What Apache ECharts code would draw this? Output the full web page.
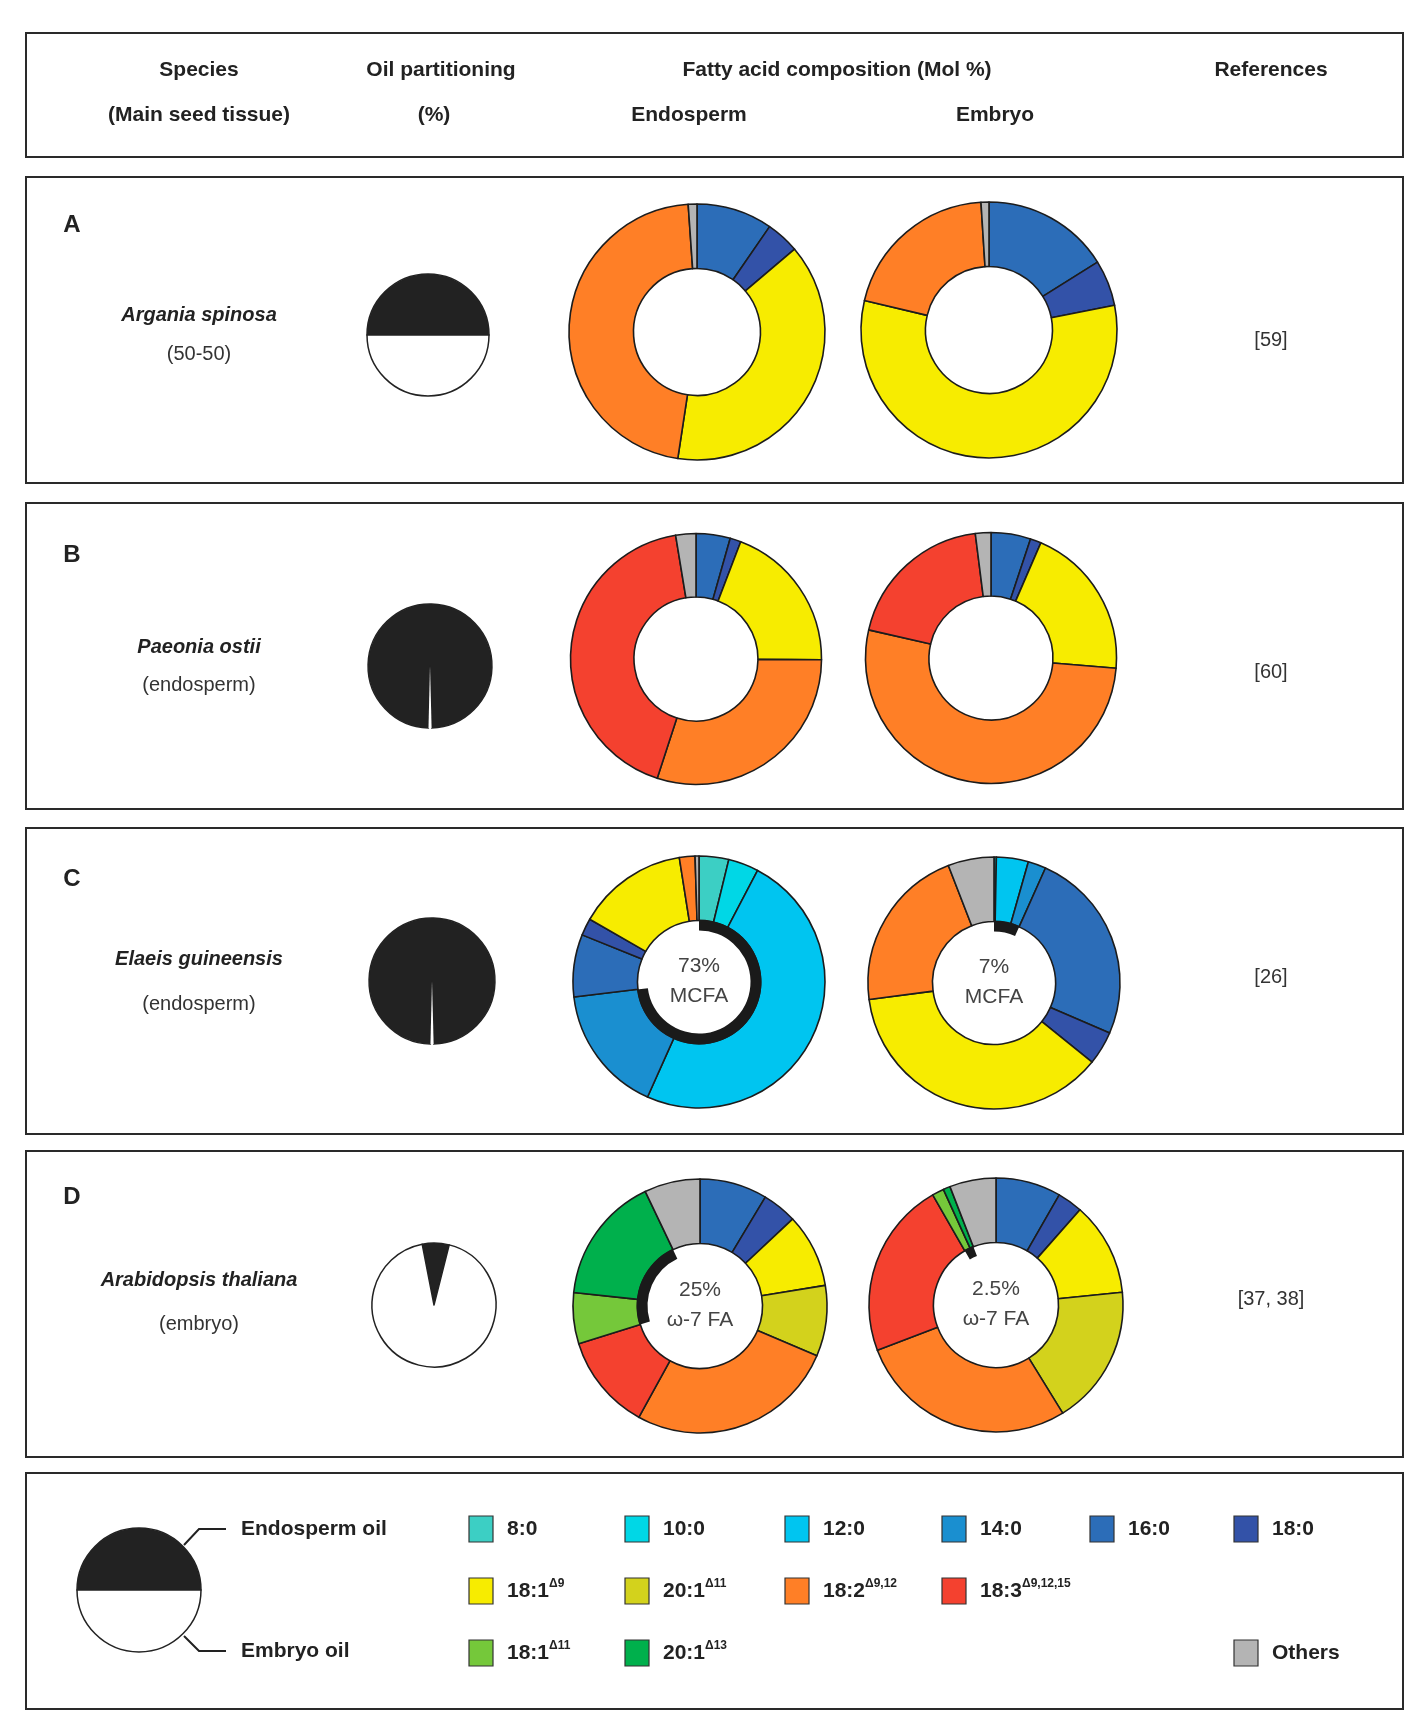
<!DOCTYPE html>
<html><head><meta charset="utf-8">
<script src="https://cdn.jsdelivr.net/npm/echarts@6/dist/echarts.min.js"></script>
<style>html,body{margin:0;padding:0;background:#fff}#c{width:1428px;height:1733px}</style>
</head><body><div id="c"></div>
<script>
// ================= DATA =================
const faNames = ['8:0','10:0','12:0','14:0','16:0','18:0','18:1Δ9','20:1Δ11','18:2Δ9,12','18:3Δ9,12,15','18:1Δ11','20:1Δ13','Others'];

const panelLetters = ['A','B','C','D'];
const speciesNames = ['Argania spinosa','Paeonia ostii','Elaeis guineensis','Arabidopsis thaliana'];
const mainTissue = ['(50-50)','(endosperm)','(endosperm)','(embryo)'];
const references = ['[59]','[60]','[26]','[37, 38]'];

// Oil partitioning (%): endosperm oil, embryo oil
const oilEndosperm = [50, 99.2, 99.2, 7];
const oilEmbryo    = [50, 0.8, 0.8, 93];
const legendOilSplit = [50, 50];

// Fatty acid composition (Mol %), clockwise from 12 o'clock
const A_fa       = ['16:0','18:0','18:1Δ9','18:2Δ9,12','Others'];
const A_endo_val = [9.6, 4.2, 38.6, 46.5, 1.1];
const A_emb_val  = [16.1, 5.8, 56.8, 20.3, 1.0];

const B_fa       = ['16:0','18:0','18:1Δ9','18:2Δ9,12','18:3Δ9,12,15','Others'];
const B_endo_val = [4.4, 1.4, 19.3, 29.9, 42.4, 2.6];
const B_emb_val  = [5.1, 1.4, 19.8, 52.3, 19.4, 2.0];

const C_endo_fa  = ['8:0','10:0','12:0','14:0','16:0','18:0','18:1Δ9','18:2Δ9,12','Others'];
const C_endo_val = [3.8, 3.9, 49.0, 16.4, 8.0, 2.2, 14.2, 2.0, 0.5];
const C_emb_fa   = ['10:0','12:0','14:0','16:0','18:0','18:1Δ9','18:2Δ9,12','Others'];
const C_emb_val  = [0.3, 4.1, 2.3, 24.8, 4.3, 37.1, 21.2, 5.9];

const D_fa       = ['16:0','18:0','18:1Δ9','20:1Δ11','18:2Δ9,12','18:3Δ9,12,15','18:1Δ11','20:1Δ13','Others'];
const D_endo_val = [8.6, 4.4, 9.4, 9.0, 26.6, 12.2, 6.5, 16.2, 7.1];
const D_emb_val  = [8.3, 3.2, 11.9, 17.8, 28.0, 22.5, 1.5, 0.9, 5.9];

// Highlighted groups (black inner arc)
const mcfaGroup  = ['8:0','10:0','12:0','14:0'];
const omega7Group = ['18:1Δ11','20:1Δ13'];
const C_endo_label = ['73%','MCFA'];
const C_emb_label  = ['7%','MCFA'];
const D_endo_label = ['25%','ω-7 FA'];
const D_emb_label  = ['2.5%','ω-7 FA'];

// ================= STYLES / LAYOUT =================
const faColors = {
  '8:0':'#3ccfc4','10:0':'#00d7e6','12:0':'#00c5f0','14:0':'#1a8fd0','16:0':'#2c6db8','18:0':'#3352a8',
  '18:1Δ9':'#f7ec00','20:1Δ11':'#d3d21c','18:2Δ9,12':'#ff7f26','18:3Δ9,12,15':'#f4412f',
  '18:1Δ11':'#75c83a','20:1Δ13':'#00b04c','Others':'#b4b4b4'
};
const FONT = '"Liberation Sans", Arial, sans-serif';
const ink = '#222';

const panelRect = [[177,306],[503,306],[828,306],[1151,306]];
const rowY = [
  {letter:225, sp:315, ti:354, ref:340, pie:335, endo:[697,332], emb:[989,330], ro:128, ri:63.5},
  {letter:555, sp:647, ti:685, ref:672, pie:666, endo:[696,659], emb:[991,658], ro:125.5, ri:62},
  {letter:879, sp:959, ti:1004, ref:977, pie:981, endo:[699,982], emb:[994,983], ro:126, ri:61.5},
  {letter:1197, sp:1280, ti:1324, ref:1299, pie:1305, endo:[700,1306], emb:[996,1305], ro:127, ri:62.5}
];
const pieX = [428, 430, 432, 434];
const pieR = [61, 62, 63, 62];

// ================= BUILD =================
const series = [];
const graphic = [];

function donut(center, ro, ri, names, vals) {
  series.push({
    type:'pie', center:center, radius:[ri, ro], startAngle:90, clockwise:true,
    silent:true, animation:false, label:{show:false}, labelLine:{show:false},
    itemStyle:{borderColor:'#1c1c1c', borderWidth:1.6},
    emphasis:{disabled:true},
    data: names.map((n,i)=>({name:n, value:vals[i], itemStyle:{color:faColors[n]}}))
  });
}
function arc(center, ri, names, vals, group) {
  let before=0, mid=0, after=0, seen=false;
  names.forEach((n,i)=>{
    if (group.includes(n)) { mid+=vals[i]; seen=true; }
    else if (!seen) before+=vals[i]; else after+=vals[i];
  });
  series.push({
    type:'pie', center:center, radius:[ri-10, ri+1], startAngle:90, clockwise:true,
    silent:true, animation:false, label:{show:false}, labelLine:{show:false},
    emphasis:{disabled:true}, z:5,
    data:[
      {value:before, itemStyle:{color:'rgba(0,0,0,0)'}},
      {value:mid, itemStyle:{color:'#1a1a1a'}},
      {value:after, itemStyle:{color:'rgba(0,0,0,0)'}}
    ]
  });
}
function oilPie(center, r, endo, emb, startAngle, border) {
  series.push({
    type:'pie', center:center, radius:[0, r], startAngle:startAngle, clockwise:true,
    silent:true, animation:false, label:{show:false}, labelLine:{show:false},
    emphasis:{disabled:true},
    data:[
      {name:'Endosperm oil', value:endo, itemStyle:{color:'#222', borderColor:'#222', borderWidth:border?1.5:1.4}},
      {name:'Embryo oil', value:emb, itemStyle:{color:'#ffffff', borderColor:border?'#222':'transparent', borderWidth:border?1.5:0}}
    ]
  });
}
function centerText(c, lines) {
  graphic.push({type:'text', x:c[0], y:c[1]-16, style:{text:lines[0], font:'21px '+FONT, fill:'#444', textAlign:'center', textVerticalAlign:'middle'}, z:10});
  graphic.push({type:'text', x:c[0], y:c[1]+14, style:{text:lines[1], font:'21px '+FONT, fill:'#444', textAlign:'center', textVerticalAlign:'middle'}, z:10});
}

// Oil partition pies
const pieStart = [180, 268.6, 268.6, 101];
const pieBorder = [true, false, false, true];
for (let i=0;i<4;i++) oilPie([pieX[i], rowY[i].pie], pieR[i], oilEndosperm[i], oilEmbryo[i], pieStart[i], pieBorder[i]);

// Donuts
donut(rowY[0].endo, rowY[0].ro, rowY[0].ri, A_fa, A_endo_val);
donut(rowY[0].emb,  rowY[0].ro, rowY[0].ri, A_fa, A_emb_val);
donut(rowY[1].endo, rowY[1].ro, rowY[1].ri, B_fa, B_endo_val);
donut(rowY[1].emb,  rowY[1].ro, rowY[1].ri, B_fa, B_emb_val);
donut(rowY[2].endo, rowY[2].ro, rowY[2].ri, C_endo_fa, C_endo_val);
donut(rowY[2].emb,  rowY[2].ro, rowY[2].ri, C_emb_fa, C_emb_val);
donut(rowY[3].endo, rowY[3].ro, rowY[3].ri, D_fa, D_endo_val);
donut(rowY[3].emb,  rowY[3].ro, rowY[3].ri, D_fa, D_emb_val);
arc(rowY[2].endo, rowY[2].ri, C_endo_fa, C_endo_val, mcfaGroup);
arc(rowY[2].emb,  rowY[2].ri, C_emb_fa, C_emb_val, mcfaGroup);
arc(rowY[3].endo, rowY[3].ri, D_fa, D_endo_val, omega7Group);
arc(rowY[3].emb,  rowY[3].ri, D_fa, D_emb_val, omega7Group);
centerText(rowY[2].endo, C_endo_label);
centerText(rowY[2].emb,  C_emb_label);
centerText(rowY[3].endo, D_endo_label);
centerText(rowY[3].emb,  D_emb_label);

// Legend pie
oilPie([139,1590], 62, legendOilSplit[0], legendOilSplit[1], 180, true);

// Boxes
const boxes = [[26,33,1377,124]].concat(panelRect.map(p=>[26,p[0],1377,p[1]])).concat([[26,1473,1377,236]]);
boxes.forEach(b=>graphic.push({type:'rect', shape:{x:b[0],y:b[1],width:b[2],height:b[3]}, style:{fill:'none', stroke:'#2a2a2a', lineWidth:2}, z:1}));

// Header
const hdr = [
  ['Species',199,70],['(Main seed tissue)',199,115],['Oil partitioning',441,70],['(%)',434,115],
  ['Fatty acid composition (Mol %)',837,70],['Endosperm',689,115],['Embryo',995,115],['References',1271,70]
];
hdr.forEach(h=>graphic.push({type:'text', x:h[1], y:h[2], style:{text:h[0], font:'bold 21px '+FONT, fill:ink, textAlign:'center', textVerticalAlign:'middle'}}));

// Panel texts
for (let i=0;i<4;i++) {
  const r=rowY[i];
  graphic.push({type:'text', x:72, y:r.letter, style:{text:panelLetters[i], font:'bold 24px '+FONT, fill:ink, textAlign:'center', textVerticalAlign:'middle'}});
  graphic.push({type:'text', x:199, y:r.sp, style:{text:speciesNames[i], font:'italic bold 20px '+FONT, fill:ink, textAlign:'center', textVerticalAlign:'middle'}});
  graphic.push({type:'text', x:199, y:r.ti, style:{text:mainTissue[i], font:'20px '+FONT, fill:'#333', textAlign:'center', textVerticalAlign:'middle'}});
  graphic.push({type:'text', x:1271, y:r.ref, style:{text:references[i], font:'20px '+FONT, fill:'#333', textAlign:'center', textVerticalAlign:'middle'}});
}

// Legend
graphic.push({type:'polyline', shape:{points:[[184,1545],[199,1529],[226,1529]]}, style:{stroke:'#222', lineWidth:2, fill:'none'}});
graphic.push({type:'polyline', shape:{points:[[184,1636],[199,1651],[226,1651]]}, style:{stroke:'#222', lineWidth:2, fill:'none'}});
graphic.push({type:'text', x:241, y:1529, style:{text:'Endosperm oil', font:'bold 21px '+FONT, fill:ink, textVerticalAlign:'middle'}});
graphic.push({type:'text', x:241, y:1651, style:{text:'Embryo oil', font:'bold 21px '+FONT, fill:ink, textVerticalAlign:'middle'}});

const legCols = [469, 625, 785, 942, 1090, 1234];
const legRows = [1529, 1591, 1653];
const legendItems = [
  ['8:0',0,0],['10:0',1,0],['12:0',2,0],['14:0',3,0],['16:0',4,0],['18:0',5,0],
  ['18:1Δ9',0,1],['20:1Δ11',1,1],['18:2Δ9,12',2,1],['18:3Δ9,12,15',3,1],
  ['18:1Δ11',0,2],['20:1Δ13',1,2],['Others',5,2]
];
function richLabel(n) {
  const k = n.indexOf('Δ');
  if (k < 0) return n;
  return n.slice(0,k) + '{s|' + n.slice(k) + '}';
}
legendItems.forEach(it=>{
  const x = legCols[it[1]], y = legRows[it[2]];
  graphic.push({type:'rect', shape:{x:x, y:y-13, width:24, height:26}, style:{fill:faColors[it[0]], stroke:'#333', lineWidth:1.2}});
  graphic.push({type:'text', x:x+38, y:y, style:{
    text:richLabel(it[0]), font:'bold 21px '+FONT, fill:ink, textVerticalAlign:'middle', lineHeight:26,
    rich:{s:{fontSize:12, fontWeight:'bold', fontFamily:'"Liberation Sans", Arial, sans-serif', fill:ink, lineHeight:14, verticalAlign:'top'}}
  }});
});

const chart = echarts.init(document.getElementById('c'), null, {width:1428, height:1733, renderer:'canvas'});
chart.setOption({
  backgroundColor:'#ffffff',
  animation:false,
  series: series,
  graphic: graphic
});
</script></body></html>
